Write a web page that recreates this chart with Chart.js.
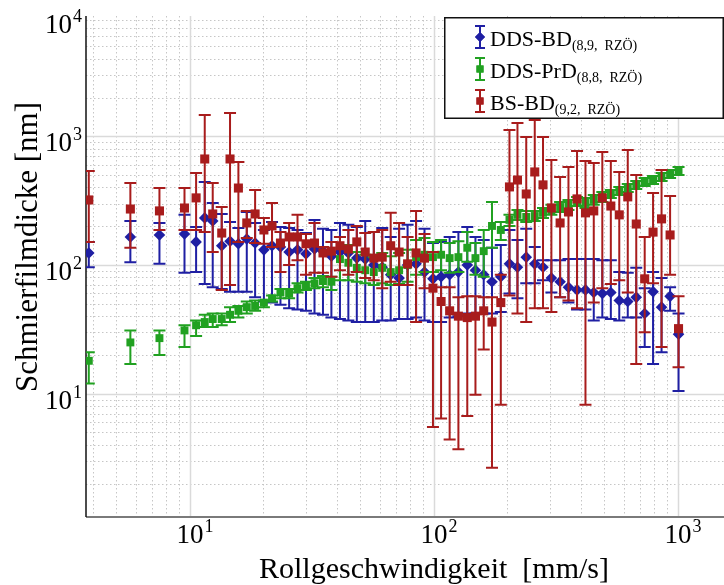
<!DOCTYPE html>
<html>
<head>
<meta charset="utf-8">
<script src="https://cdn.jsdelivr.net/npm/chart.js@4.4.0/dist/chart.umd.min.js"></script>
<style>
    html, body { margin: 0; padding: 0; background: #fff; }
    #wrap { width: 724px; height: 585px; }
</style>
</head>
<body>
<div id="wrap"><canvas id="filmChart" width="724" height="585"></canvas></div>
<script>
// Rolling speed [mm/s]
const speed = [3.85, 5.7, 7.5, 9.5,
    10.6, 11.5, 12.4, 13.5, 14.6, 15.8, 17.1, 18.5, 20.1, 21.7,
    23.5, 25.5, 27.6, 29.9, 32.4, 35.1, 38.0, 41.2, 44.6, 48.3,
    52.3, 56.7, 61.4, 66.5, 72.0, 78.0, 84.5, 91.5, 99.1, 107,
    116, 126, 137, 148, 160, 173, 188, 204, 220, 239,
    259, 280, 303, 329, 356, 386, 418, 452, 490, 531,
    575, 623, 675, 731, 791, 857, 929, 1006];

// DDS-BD film thickness [nm] with error range
const blueFilm = [124, 165, 171, 174,
    151, 232, 220, 141, 153, 146, 159, 148, 131, 141,
    138, 126, 131, 122, 133, 128, 117, 126, 124, 113,
    111, 100, 96, 84, 79, 100, 102, 88, 78, 81,
    84, 88, 100, 91, 84, 74, 81, 102, 96, 115,
    102, 96, 79, 74, 67, 64, 64, 61, 60, 61,
    53, 52, 56, 42, 62, 47, 57, 29];
const blueHigh = [151, 220, 212, 245,
    197, 442, 303, 249, 216, 194, 258, 212, 187, 216,
    197, 194, 187, 177, 224, 191, 187, 212, 205, 197,
    220, 180, 194, 165, 191, 205, 220, 191, 148, 151,
    165, 180, 197, 165, 156, 136, 143, 187, 156, 191,
    138, 109, 109, 109, 111, 111, 111, 111, 109, 109,
    88, 87, 95, 66, 88, 79, 67, 42];
const blueLow = [96, 105, 102, 87,
    88, 71, 67, 65, 62, 62, 62, 56, 52, 51,
    49, 46, 45, 44, 42, 41, 39, 38, 37, 36,
    36, 36, 37, 37, 38, 38, 39, 37, 36, 36,
    39, 40, 42, 42, 42, 42, 43, 60, 55, 72,
    72, 76, 61, 56, 51, 45, 45, 37, 39, 38,
    37, 39, 39, 23, 17, 21, 44, 10.5];

// DDS-PrD
const greenFilm = [18, 25, 27, 31,
    34, 36, 38, 38, 41, 44, 47, 48, 51, 55,
    61, 60, 66, 69, 72, 75, 74, 111, 104, 95,
    91, 88, 95, 88, 91, 100, 115, 120, 115, 120,
    113, 115, 136, 113, 128, 201, 187, 224, 245, 236,
    240, 254, 267, 282, 293, 309, 303, 320, 338, 356,
    376, 396, 419, 442, 457, 483, 509, 537];
const greenHigh = [21, 31, 31, 34,
    37, 41, 42, 42, 47, 48, 52, 53, 53, 58,
    65, 65, 72, 74, 79, 82, 81, 165, 143, 126,
    120, 115, 124, 117, 124, 131, 156, 162, 151, 156,
    148, 153, 180, 148, 187, 309, 216, 245, 267, 263,
    263, 277, 293, 309, 320, 338, 332, 350, 369, 383,
    404, 426, 450, 474, 492, 519, 547, 577];
const greenLow = [12, 17, 20, 23,
    28, 33, 33, 34, 36, 39, 42, 44, 47, 52,
    55, 55, 61, 64, 66, 67, 64, 76, 76, 74,
    72, 70, 72, 70, 71, 74, 84, 88, 88, 91,
    87, 88, 106, 84, 81, 136, 156, 201, 224, 216,
    220, 232, 245, 258, 267, 287, 277, 293, 309, 332,
    350, 369, 390, 411, 426, 450, 474, 500];

// BS-BD
const redFilm = [320, 272, 263, 277,
    332, 666, 249, 177, 666, 396, 212, 249, 187, 201,
    148, 165, 165, 146, 148, 124, 128, 141, 133, 151,
    126, 113, 115, 141, 126, 102, 124, 113, 66, 52,
    44, 40, 39, 40, 44, 36, 51, 404, 457, 356,
    528, 419, 277, 212, 258, 326, 254, 263, 332, 287,
    245, 338, 208, 78, 180, 228, 171, 32];
const redHigh = [537, 434, 396, 396,
    519, 1465, 434, 282, 1517, 631, 263, 383, 232, 303,
    180, 212, 245, 174, 212, 138, 151, 165, 187, 201,
    177, 180, 187, 254, 212, 165, 263, 174, 126, 67,
    67, 56, 57, 57, 56, 56, 84, 1119, 1269, 988,
    1340, 988, 654, 483, 577, 769, 643, 621, 755, 643,
    528, 783, 500, 165, 363, 547, 344, 57];
const redLow = [151, 136, 187, 187,
    187, 180, 126, 64, 70, 151, 162, 148, 146, 138,
    88, 100, 109, 84, 87, 87, 81, 91, 84, 88,
    79, 76, 66, 74, 70, 70, 36, 66, 5.5, 6.4,
    4.4, 3.7, 6.7, 9.8, 22, 2.65, 8.2, 58, 42, 36,
    46, 46, 43, 56, 53, 46, 8.2, 51, 66, 71,
    76, 61, 17, 30, 72, 23, 84, 16];

const xTicks = [10, 100, 1000];
const yTicks = [10, 100, 1000, 10000];

const FONT = '"Liberation Serif", "Times New Roman", serif';

const series = [
    { label: 'DDS-BD', sub: '(8,9,  RZÖ)', color: '#1f1fa3', style: 'rectRot', radius: 5.8, film: blueFilm, low: blueLow, high: blueHigh, order: 3 },
    { label: 'DDS-PrD', sub: '(8,8,  RZÖ)', color: '#21a121', style: 'rect', radius: 5.6, film: greenFilm, low: greenLow, high: greenHigh, order: 2 },
    { label: 'BS-BD', sub: '(9,2,  RZÖ)', color: '#a81c1c', style: 'rect', radius: 6.4, film: redFilm, low: redLow, high: redHigh, order: 1 }
];

function toPoints(values) {
    return speed.map((x, i) => ({ x: x, y: values[i] }));
}

// Log grid: dotted minor lines, solid major lines, then the two axis lines
const gridPlugin = {
    id: 'logGrid',
    beforeDatasetsDraw(chart) {
        const c = chart.ctx;
        const area = chart.chartArea;
        const xs = chart.scales.x;
        const ys = chart.scales.y;
        c.save();
        c.beginPath();
        c.rect(area.left, area.top, area.right - area.left, area.bottom - area.top);
        c.clip();
        [false, true].forEach(major => {
            c.strokeStyle = major ? '#dadada' : '#c6c6c6';
            c.lineWidth = major ? 1.5 : 1;
            c.setLineDash(major ? [] : [1.5, 2.5]);
            [1, 10, 100, 1000].forEach(d => {
                for (let m = 1; m <= 9; m++) {
                    if ((m === 1) !== major) continue;
                    const v = m * d;
                    if (v > xs.min && v < xs.max) {
                        const px = Math.round(xs.getPixelForValue(v)) + 0.5;
                        c.beginPath();
                        c.moveTo(px, area.top);
                        c.lineTo(px, area.bottom);
                        c.stroke();
                    }
                    if (v > ys.min && v < ys.max) {
                        const py = Math.round(ys.getPixelForValue(v)) + 0.5;
                        c.beginPath();
                        c.moveTo(area.left, py);
                        c.lineTo(area.right, py);
                        c.stroke();
                    }
                }
            });
        });
        c.restore();

        c.save();
        c.strokeStyle = '#7a7a7a';
        c.lineWidth = 2;
        c.beginPath();
        c.moveTo(area.left, area.bottom);
        c.lineTo(area.right, area.bottom);
        c.stroke();
        c.strokeStyle = '#111';
        c.lineWidth = 1.5;
        c.beginPath();
        c.moveTo(area.left, area.top);
        c.lineTo(area.left, area.bottom);
        c.stroke();
        c.restore();
    }
};

// Error bars of each series, drawn just before its markers
const errorBarPlugin = {
    id: 'errorBars',
    beforeDatasetDraw(chart, args) {
        const ds = chart.data.datasets[args.index];
        const c = chart.ctx;
        const area = chart.chartArea;
        const xs = chart.scales.x;
        const ys = chart.scales.y;
        c.save();
        c.beginPath();
        c.rect(area.left, area.top, area.right - area.left, area.bottom - area.top);
        c.clip();
        c.strokeStyle = ds.borderColor;
        c.lineWidth = 2;
        ds.data.forEach((p, i) => {
            const px = xs.getPixelForValue(p.x);
            const top = ys.getPixelForValue(ds.errHigh[i]);
            const bot = ys.getPixelForValue(ds.errLow[i]);
            c.beginPath();
            c.moveTo(px, top);
            c.lineTo(px, bot);
            c.moveTo(px - 6, top);
            c.lineTo(px + 6, top);
            c.moveTo(px - 6, bot);
            c.lineTo(px + 6, bot);
            c.stroke();
        });
        c.restore();
    }
};

// Draws "10" with a raised exponent
function drawPower(c, exp, x, baseline, align) {
    c.font = '27px ' + FONT;
    const w10 = c.measureText('10').width;
    c.font = '18px ' + FONT;
    const wExp = c.measureText(exp).width;
    let start;
    if (align === 'center') start = x - w10 / 2;
    else start = x - w10 - wExp - 1;
    c.textAlign = 'left';
    c.textBaseline = 'alphabetic';
    c.font = '27px ' + FONT;
    c.fillText('10', start, baseline);
    c.font = '18px ' + FONT;
    c.fillText(exp, start + w10 + 1, baseline - 11);
}

// Tick labels, axis titles and the boxed legend
const labelPlugin = {
    id: 'labels',
    afterDraw(chart) {
        const c = chart.ctx;
        const area = chart.chartArea;
        const xs = chart.scales.x;
        const ys = chart.scales.y;
        c.save();
        c.fillStyle = '#000';

        xTicks.forEach(v => {
            const exp = String(Math.round(Math.log10(v)));
            drawPower(c, exp, xs.getPixelForValue(v), area.bottom + 26, 'center');
        });
        yTicks.forEach(v => {
            const exp = String(Math.round(Math.log10(v)));
            const py = Math.max(ys.getPixelForValue(v) + 15, area.top + 17);
            drawPower(c, exp, area.left - 4, py, 'right');
        });

        c.font = '30px ' + FONT;
        c.textAlign = 'center';
        c.textBaseline = 'alphabetic';
        c.fillText('Rollgeschwindigkeit  [mm/s]', 434, 578);

        c.save();
        c.font = '31px ' + FONT;
        c.translate(37, 247);
        c.rotate(-Math.PI / 2);
        c.fillText('Schmierfilmdicke [nm]', 0, 0);
        c.restore();

        // legend box
        c.fillStyle = '#fff';
        c.fillRect(444, 17, 280, 101);
        c.strokeStyle = '#111';
        c.lineWidth = 1.5;
        c.strokeRect(444.75, 17.75, 278.5, 100.5);

        series.forEach((s, i) => {
            const cy = 37 + i * 32;
            const ix = 480;
            c.strokeStyle = s.color;
            c.fillStyle = s.color;
            c.lineWidth = 2;
            c.beginPath();
            c.moveTo(ix, cy - 11);
            c.lineTo(ix, cy + 11);
            c.moveTo(ix - 5, cy - 11);
            c.lineTo(ix + 5, cy - 11);
            c.moveTo(ix - 5, cy + 11);
            c.lineTo(ix + 5, cy + 11);
            c.stroke();
            Chart.helpers.drawPoint(c, { pointStyle: s.style, radius: 5, borderWidth: 0, rotation: 0 }, ix, cy);
            c.fill();

            c.fillStyle = '#000';
            c.textAlign = 'left';
            c.font = '22px ' + FONT;
            c.fillText(s.label, 490, cy + 9);
            const w = c.measureText(s.label).width;
            c.font = '14px ' + FONT;
            c.fillText(s.sub, 490 + w, cy + 13);
        });
        c.restore();
    }
};

const ctx = document.getElementById('filmChart').getContext('2d');
new Chart(ctx, {
    type: 'scatter',
    data: {
        datasets: series.map(s => ({
            label: s.label,
            data: toPoints(s.film),
            errLow: s.low,
            errHigh: s.high,
            pointStyle: s.style,
            pointRadius: s.radius,
            backgroundColor: s.color,
            borderColor: s.color,
            borderWidth: 0,
            showLine: false,
            order: s.order
        }))
    },
    options: {
        responsive: false,
        animation: false,
        layout: { autoPadding: false, padding: { left: 86, top: 16, right: 0, bottom: 68 } },
        scales: {
            x: { type: 'logarithmic', min: 3.75, max: 1545, display: false },
            y: { type: 'logarithmic', min: 1.1, max: 8600, display: false }
        },
        plugins: {
            legend: { display: false },
            tooltip: { enabled: false }
        }
    },
    plugins: [gridPlugin, errorBarPlugin, labelPlugin]
});
</script>
</body>
</html>
